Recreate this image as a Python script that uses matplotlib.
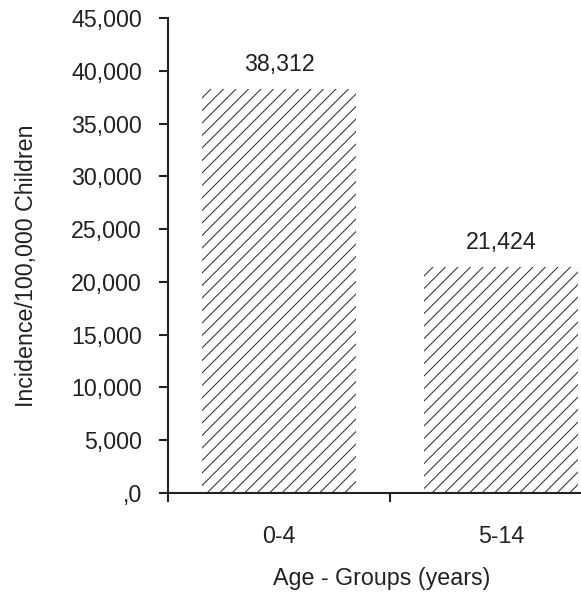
import matplotlib
matplotlib.use("Agg")
import matplotlib.pyplot as plt

categories = ["0-4", "5-14"]
values = [38312, 21424]
value_labels = ["38,312", "21,424"]
y_ticks = [0, 5000, 10000, 15000, 20000, 25000, 30000, 35000, 40000, 45000]
y_tick_labels = [",0", "5,000", "10,000", "15,000", "20,000", "25,000",
                 "30,000", "35,000", "40,000", "45,000"]
x_label = "Age - Groups (years)"
y_label = "Incidence/100,000 Children"

plt.rcParams['font.family'] = ['Liberation Sans', 'DejaVu Sans']
plt.rcParams['hatch.linewidth'] = 0.5

FS = 11.2
W, H, DPI = 581, 595, 150
fig = plt.figure(figsize=(W / DPI, H / DPI), dpi=DPI)
ax = fig.add_axes([168 / W, (H - 493) / H, (612 - 168) / W, 475 / H])

xs = list(range(len(categories)))
ax.bar(xs, values, width=0.694, color='white', edgecolor='#333333',
       linewidth=0, hatch='////')

for x, v, lab in zip(xs, values, value_labels):
    ax.annotate(lab, (x, v), xytext=(0, 8.6), textcoords='offset points',
                ha='center', va='baseline', fontsize=FS, color='#222222')

ax.set_xlim(-0.5, len(categories) - 0.5)
ax.set_ylim(0, 45000)
ax.set_yticks(y_ticks)
ax.set_yticklabels(y_tick_labels)
ax.set_xticks([i - 0.5 for i in range(len(categories) + 1)])
ax.set_xticklabels([])
ax.set_xticks(xs, minor=True)
ax.set_xticklabels(categories, minor=True)

for s in ['top', 'right']:
    ax.spines[s].set_visible(False)
for s in ['left', 'bottom']:
    ax.spines[s].set_linewidth(1.0)
    ax.spines[s].set_color('#222222')

ax.tick_params(axis='y', direction='out', length=4.5, width=1.0,
               pad=8.0, labelsize=FS, colors='#222222')
ax.tick_params(axis='x', which='major', direction='out', length=4.5,
               width=1.0, colors='#222222')
ax.tick_params(axis='x', which='minor', length=0, pad=15.2,
               labelsize=FS, labelcolor='#222222')

fig.text(382 / W, 1 - 578 / H, x_label, ha='center', va='center',
         fontsize=FS, color='#222222')
fig.text(33.5 / W, 1 - 407 / H, y_label, ha='left', va='baseline',
         rotation=90, rotation_mode='anchor', fontsize=FS, color='#222222')

fig.savefig("out.png", dpi=DPI)
